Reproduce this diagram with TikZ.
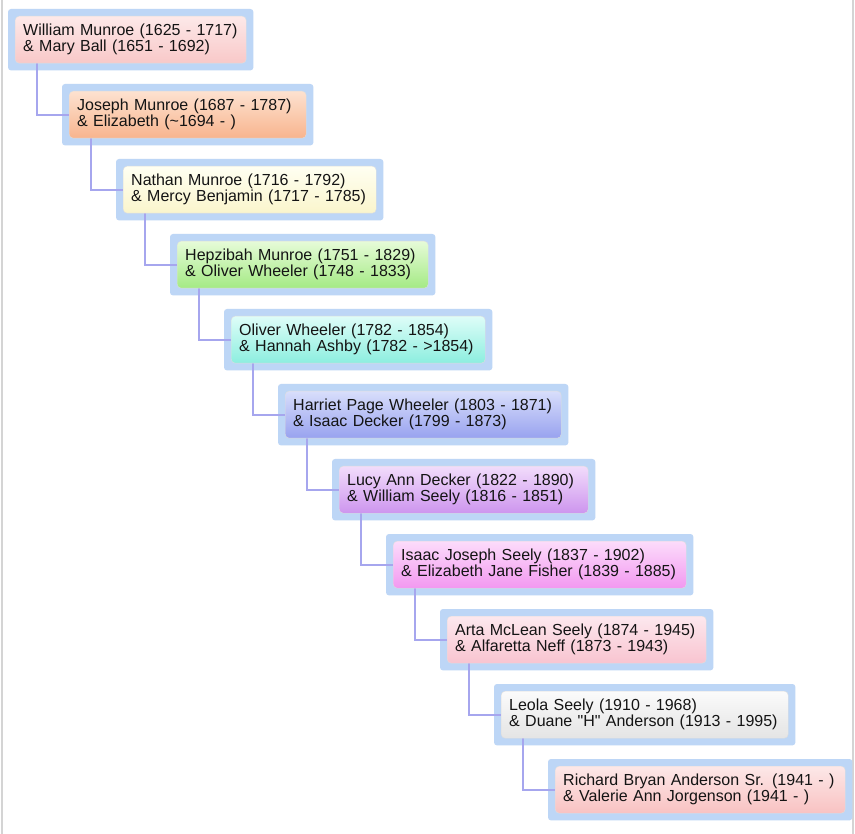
\documentclass[tikz,border=0pt]{standalone}
\usepackage{fontspec}
\setmainfont{Liberation Sans}[Ligatures=TeXOff]
\usetikzlibrary{fit}
\pgfdeclarelayer{bg}
\pgfdeclarelayer{mid}
\pgfsetlayers{bg,mid,main}
\definecolor{outerblue}{HTML}{BDD6F6}
\definecolor{connc}{HTML}{A6A6EE}
\definecolor{framec}{HTML}{D4D4D4}
\definecolor{txt}{HTML}{141414}
\definecolor{t1}{HTML}{FDE9E9}\definecolor{b1}{HTML}{F8C8C8}
\definecolor{t2}{HTML}{FDE2D0}\definecolor{b2}{HTML}{F8B48E}
\definecolor{t3}{HTML}{FFFFF2}\definecolor{b3}{HTML}{FAF5CC}
\definecolor{t4}{HTML}{E6FBD8}\definecolor{b4}{HTML}{A4EA84}
\definecolor{t5}{HTML}{DEFDF8}\definecolor{b5}{HTML}{8CEEDF}
\definecolor{t6}{HTML}{D8DEFB}\definecolor{b6}{HTML}{98A2EF}
\definecolor{t7}{HTML}{F2DCFB}\definecolor{b7}{HTML}{CD95EE}
\definecolor{t8}{HTML}{FCDCFB}\definecolor{b8}{HTML}{F298F0}
\definecolor{t9}{HTML}{FDE8EE}\definecolor{b9}{HTML}{F8C4D0}
\definecolor{t10}{HTML}{FBFBFB}\definecolor{b10}{HTML}{E4E4E4}
\definecolor{t11}{HTML}{FDE8E8}\definecolor{b11}{HTML}{F8C2C2}
\newcommand\twoline[2]{\mbox{#1}\\\mbox{#2}}
\tikzset{
  personbox/.style={anchor=north west, rounded corners=4pt, draw=black!13,
    minimum height=47pt, inner xsep=8pt, inner ysep=0pt, align=left,
    font=\fontsize{16}{16}\selectfont, text=txt},
  hue/.style={top color=t#1, bottom color=b#1},
  outerbox/.style={fill=outerblue, rounded corners=3pt, inner sep=7pt},
  conn/.style={draw=connc, line width=1.7pt},
  framel/.style={draw=framec, line width=1.5pt}
}
\begin{document}
\begin{tikzpicture}[x=1pt,y=-1pt]
\useasboundingbox (0,0) rectangle (855,834);
\begin{pgfonlayer}{bg}
\fill[white] (0,0) rectangle (855,834);
\draw[framel] (2,0) -- (2,834);
\draw[framel] (853,0) -- (853,834);
\end{pgfonlayer}

\node[personbox, hue=1, text width=215pt] (n1) at (15,16) {\twoline{William Munroe (1625 - 1717)}{\& Mary Ball (1651 - 1692)}};
\node[personbox, hue=2, text width=221pt] (n2) at (69,91) {\twoline{Joseph Munroe (1687 - 1787)}{\& Elizabeth (\textasciitilde 1694 - )}};
\node[personbox, hue=3, text width=237pt] (n3) at (123,166) {\twoline{Nathan Munroe (1716 - 1792)}{\& Mercy Benjamin (1717 - 1785)}};
\node[personbox, hue=4, text width=235pt] (n4) at (177,241) {\twoline{Hepzibah Munroe (1751 - 1829)}{\& Oliver Wheeler (1748 - 1833)}};
\node[personbox, hue=5, text width=238pt] (n5) at (231,316) {\twoline{Oliver Wheeler (1782 - 1854)}{\& Hannah Ashby (1782 - >1854)}};
\node[personbox, hue=6, text width=260pt] (n6) at (285,391) {\twoline{Harriet Page Wheeler (1803 - 1871)}{\& Isaac Decker (1799 - 1873)}};
\node[personbox, hue=7, text width=233pt] (n7) at (339,466) {\twoline{Lucy Ann Decker (1822 - 1890)}{\& William Seely (1816 - 1851)}};
\node[personbox, hue=8, text width=277pt] (n8) at (393,541) {\twoline{Isaac Joseph Seely (1837 - 1902)}{\& Elizabeth Jane Fisher (1839 - 1885)}};
\node[personbox, hue=9, text width=243pt] (n9) at (447,616) {\twoline{Arta McLean Seely (1874 - 1945)}{\& Alfaretta Neff (1873 - 1943)}};
\node[personbox, hue=10, text width=271pt] (n10) at (501,691) {\twoline{Leola Seely (1910 - 1968)}{\& Duane "H" Anderson (1913 - 1995)}};
\node[personbox, hue=11, text width=274pt] (n11) at (555,766) {\twoline{Richard Bryan Anderson Sr. (1941 - )}{\& Valerie Ann Jorgenson (1941 - )}};

\begin{pgfonlayer}{bg}
\foreach \i in {1,...,11} {
  \node[outerbox, fit=(n\i)] (o\i) {};
}
\end{pgfonlayer}

\begin{pgfonlayer}{mid}
\foreach \i [evaluate=\i as \j using int(\i+1)] in {1,...,10} {
  \draw[conn] ([xshift=22pt]n\i.south west) |- (n\j.west);
}
\end{pgfonlayer}
\end{tikzpicture}
\end{document}
